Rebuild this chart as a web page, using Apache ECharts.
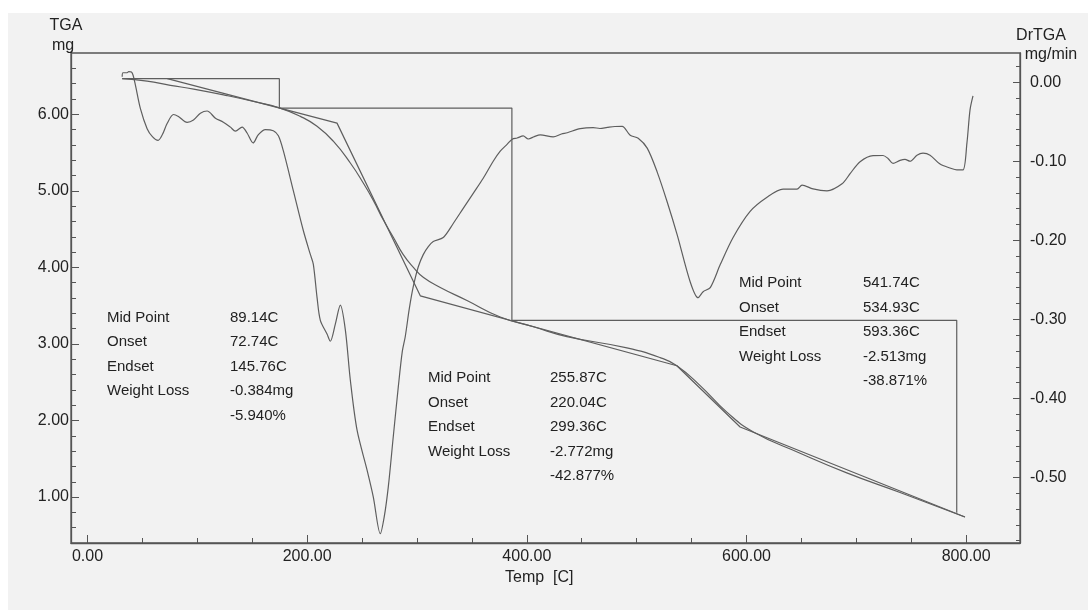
<!DOCTYPE html>
<html>
<head>
<meta charset="utf-8">
<script src="https://cdn.jsdelivr.net/npm/echarts@6/dist/echarts.min.js"></script>
<style>
  html, body { margin: 0; padding: 0; background: #ffffff; }
  #chart { width: 1088px; height: 610px; }
</style>
</head>
<body>
<div id="chart"></div>
<script>
// ---- TGA weight curve (temperature in C, mass in mg) ----
const tgaTemp = [31.6, 54.3, 75.5, 96.7, 127.1, 151.3, 174.7, 193.8, 209.0, 223.8, 239.3, 251.1,
  260.5, 269.3, 278.7, 287.5, 296.9, 306.0, 321.2, 345.5, 375.8, 406.1, 436.5, 491.1, 521.4,
  536.6, 557.8, 582.1, 606.3, 648.8, 691.3, 739.8, 798.9];
const tgaMass = [6.465, 6.432, 6.378, 6.328, 6.243, 6.167, 6.084, 5.972, 5.843, 5.648, 5.363, 5.102,
  4.868, 4.621, 4.387, 4.166, 3.997, 3.867, 3.738, 3.567, 3.352, 3.224, 3.096, 2.949, 2.822,
  2.715, 2.456, 2.109, 1.851, 1.573, 1.316, 1.059, 0.74];

// ---- tangent construction (onset / endset intersections) ----
const tangentTemp = [72.7, 227.2, 303.0, 536.6, 594.2, 798.9];
const tangentMass = [6.465, 5.884, 3.628, 2.715, 1.915, 0.74];

// ---- weight-loss step lines ----
const stepTemp = [31.6, 174.7, 174.7, 386.4, 386.4, 791.4, 791.4];
const stepMass = [6.465, 6.465, 6.081, 6.081, 3.309, 3.309, 0.796];

// ---- DrTGA derivative curve (mg/min) ----
const dtgTemp = [31.6, 32.3, 36.1, 37.6, 40.0, 41.6, 43.7, 48.2, 54.3, 59.1, 64.3, 68.2, 72.5, 78.3,
  82.8, 90.7, 96.5, 102.8, 108.9, 116.5, 123.7, 130.1, 134.7, 140.8, 145.3, 150.8, 155.6, 162.0,
  169.2, 173.8, 178.3, 187.4, 196.5, 202.9, 205.6, 209.0, 212.0, 218.1, 221.1, 225.7, 230.2,
  234.8, 239.3, 245.4, 254.5, 260.2, 266.6, 270.2, 273.9, 278.4, 283.0, 286.6, 289.3, 293.0,
  296.6, 301.2, 305.7, 310.3, 314.8, 323.9, 333.0, 342.1, 351.2, 360.3, 369.4, 375.8, 382.2,
  386.7, 391.2, 396.7, 401.3, 406.8, 412.2, 424.0, 431.5, 436.8, 448.6, 460.4, 466.5, 473.2,
  480.2, 486.8, 494.1, 501.4, 509.6, 518.7, 527.8, 536.9, 548.7, 555.9, 560.5, 567.0, 576.1,
  587.8, 603.3, 618.7, 633.3, 646.0, 650.6, 660.6, 673.3, 687.0, 694.3, 703.4, 715.2, 724.3,
  728.8, 733.4, 739.8, 744.3, 748.9, 755.2, 760.7, 767.1, 776.2, 785.3, 791.6, 797.1, 800.7,
  803.5, 806.2];
const dtgValue = [0.007, 0.012, 0.012, 0.0135, 0.013, 0.0085, -0.004, -0.0335, -0.0588, -0.0688,
  -0.0735, -0.0662, -0.0523, -0.0408, -0.0433, -0.0508, -0.0479, -0.0393, -0.0364, -0.0455,
  -0.0505, -0.0568, -0.0618, -0.0567, -0.0642, -0.0768, -0.0662, -0.0599, -0.0614, -0.0677,
  -0.0866, -0.1371, -0.1876, -0.2179, -0.2301, -0.2722, -0.3012, -0.3185, -0.3277, -0.3058,
  -0.2821, -0.3136, -0.3768, -0.44, -0.4904, -0.5245, -0.5712, -0.5497, -0.5117, -0.4485,
  -0.3852, -0.3409, -0.322, -0.2865, -0.2587, -0.2334, -0.2181, -0.208, -0.2016, -0.1965,
  -0.1787, -0.1596, -0.1406, -0.1215, -0.0999, -0.0872, -0.0783, -0.072, -0.0706, -0.0679,
  -0.0718, -0.0688, -0.0667, -0.0691, -0.0655, -0.0639, -0.0587, -0.0573, -0.0585, -0.0572,
  -0.0560, -0.0558, -0.0671, -0.0708, -0.0834, -0.1137, -0.1515, -0.1931, -0.2524, -0.2726,
  -0.265, -0.2598, -0.2307, -0.1964, -0.1634, -0.1455, -0.1353, -0.1352, -0.1301, -0.135,
  -0.1374, -0.1285, -0.1157, -0.1005, -0.0928, -0.0927, -0.0964, -0.1027, -0.0989, -0.0976,
  -0.1, -0.0924, -0.0898, -0.0923, -0.1036, -0.1085, -0.111, -0.1109, -0.0768, -0.035, -0.0173];

// ---- axis ticks and labels ----
const tempTicks = [0, 200, 400, 600, 800];
const massTicks = [1, 2, 3, 4, 5, 6];
const rateTicks = [0, -0.1, -0.2, -0.3, -0.4, -0.5];

// ---- step analysis results ----
const stepMid = ['89.14C', '255.87C', '541.74C'];
const stepOnset = ['72.74C', '220.04C', '534.93C'];
const stepEndset = ['145.76C', '299.36C', '593.36C'];
const stepLossMg = ['-0.384mg', '-2.772mg', '-2.513mg'];
const stepLossPct = ['-5.940%', '-42.877%', '-38.871%'];

function steps(from, to, step) {
  const out = [];
  const n = Math.round((to - from) / step);
  for (let i = 0; i <= n; i++) out.push(+(from + i * step).toFixed(4));
  return out;
}
function zip(xs, ys) { return xs.map((x, i) => [x, ys[i]]); }

const FONT = '"Liberation Sans", Arial, sans-serif';
const INK = '#222222';
const LINE = '#5e5e5e';
const AXIS = '#555555';
const fmt2 = v => (Math.abs(v) < 1e-9 ? 0 : v).toFixed(2);

const chart = echarts.init(document.getElementById('chart'), null, { renderer: 'canvas' });

const xMin = -15, xMax = 849;
const yMin = 0.4, yMax = 6.8;
const rMin = -0.583, rMax = 0.037;

function textEl(text, x, y, size, align) {
  return {
    type: 'text', x: x, y: y, silent: true, z: 50,
    style: {
      text: text, fill: INK, font: size + 'px ' + FONT,
      align: align || 'left', textAlign: align || 'left',
      verticalAlign: 'middle', textVerticalAlign: 'middle'
    }
  };
}

const blockPos = [
  { lx: 107, vx: 230, y0: 317.5 },
  { lx: 428, vx: 550, y0: 378 },
  { lx: 739, vx: 863, y0: 283 }
];
const rowGap = 24.5;
const graphics = [
  { type: 'rect', shape: { x: 8, y: 13, width: 1080, height: 597 }, style: { fill: '#f2f2f2' }, z: -10, silent: true },
  textEl('TGA', 66, 26, 16, 'center'),
  textEl('mg', 63, 46, 16, 'center'),
  textEl('DrTGA', 1041, 36, 16, 'center'),
  textEl('mg/min', 1051, 55, 16, 'center'),
  textEl('Temp  [C]', 505, 578, 16, 'left')
];
const rowNames = ['Mid Point', 'Onset', 'Endset', 'Weight Loss'];
blockPos.forEach((b, k) => {
  const vals = [stepMid[k], stepOnset[k], stepEndset[k], stepLossMg[k]];
  rowNames.forEach((nm, r) => {
    graphics.push(textEl(nm, b.lx, b.y0 + r * rowGap, 15));
    graphics.push(textEl(vals[r], b.vx, b.y0 + r * rowGap, 15));
  });
  graphics.push(textEl(stepLossPct[k], b.vx, b.y0 + 4 * rowGap, 15));
});

const lineSeries = (name, data, yIdx, smooth) => ({
  name: name, type: 'line', data: data, xAxisIndex: 0, yAxisIndex: yIdx,
  showSymbol: false, symbol: 'none', smooth: smooth,
  lineStyle: { color: LINE, width: 1.2 }, silent: true, z: 5
});

function valueAxis(min, max, position, opts) {
  return Object.assign({
    type: 'value', min: min, max: max, position: position,
    splitLine: { show: false }
  }, opts);
}

// minor temperature ticks every 50 C between the labelled ones
const tempMinorTicks = steps(50, 800, 50).filter(v => tempTicks.indexOf(v) < 0);

chart.setOption({
  animation: false,
  backgroundColor: '#ffffff',
  textStyle: { fontFamily: FONT },
  grid: { left: 71, right: 68, top: 53, bottom: 67, show: true, borderColor: AXIS, borderWidth: 1.3, backgroundColor: 'transparent', containLabel: false },
  graphic: graphics,
  xAxis: [
    valueAxis(xMin, xMax, 'bottom', {
      axisLine: { show: true, onZero: false, lineStyle: { color: AXIS, width: 1.3 } },
      axisTick: { show: true, inside: true, length: 8, customValues: tempTicks, lineStyle: { color: AXIS } },
      axisLabel: { show: true, customValues: tempTicks, formatter: fmt2, margin: 6, fontSize: 16, color: INK, fontFamily: FONT }
    }),
    valueAxis(xMin, xMax, 'bottom', {
      axisLine: { show: false, onZero: false },
      axisTick: { show: true, inside: true, length: 5, customValues: tempMinorTicks, lineStyle: { color: AXIS } },
      axisLabel: { show: false }
    })
  ],
  yAxis: [
    valueAxis(yMin, yMax, 'left', {
      axisLine: { show: true, onZero: false, lineStyle: { color: AXIS, width: 1.3 } },
      axisTick: { show: true, inside: true, length: 8, customValues: massTicks, lineStyle: { color: AXIS } },
      axisLabel: { show: true, customValues: massTicks, formatter: fmt2, margin: 2, fontSize: 16, color: INK, fontFamily: FONT }
    }),
    valueAxis(rMin, rMax, 'right', {
      axisLine: { show: true, onZero: false, lineStyle: { color: AXIS, width: 1.3 } },
      axisTick: { show: true, inside: true, length: 7, customValues: rateTicks, lineStyle: { color: AXIS } },
      axisLabel: { show: true, customValues: rateTicks, formatter: fmt2, margin: 10, fontSize: 16, color: INK, fontFamily: FONT }
    }),
    valueAxis(yMin, yMax, 'left', {
      axisLine: { show: false, onZero: false },
      axisTick: { show: true, inside: true, length: 5, customValues: steps(0.6, 6.6, 0.2), lineStyle: { color: AXIS } },
      axisLabel: { show: false }
    }),
    valueAxis(rMin, rMax, 'right', {
      axisLine: { show: false, onZero: false },
      axisTick: { show: true, inside: true, length: 4, customValues: steps(-0.58, 0.02, 0.02), lineStyle: { color: AXIS } },
      axisLabel: { show: false }
    })
  ],
  series: [
    lineSeries('TGA', zip(tgaTemp, tgaMass), 0, 0.5),
    lineSeries('Tangent', zip(tangentTemp, tangentMass), 0, false),
    lineSeries('Step', zip(stepTemp, stepMass), 0, false),
    lineSeries('DrTGA', zip(dtgTemp, dtgValue), 1, 0.3)
  ]
});
</script>
</body>
</html>
